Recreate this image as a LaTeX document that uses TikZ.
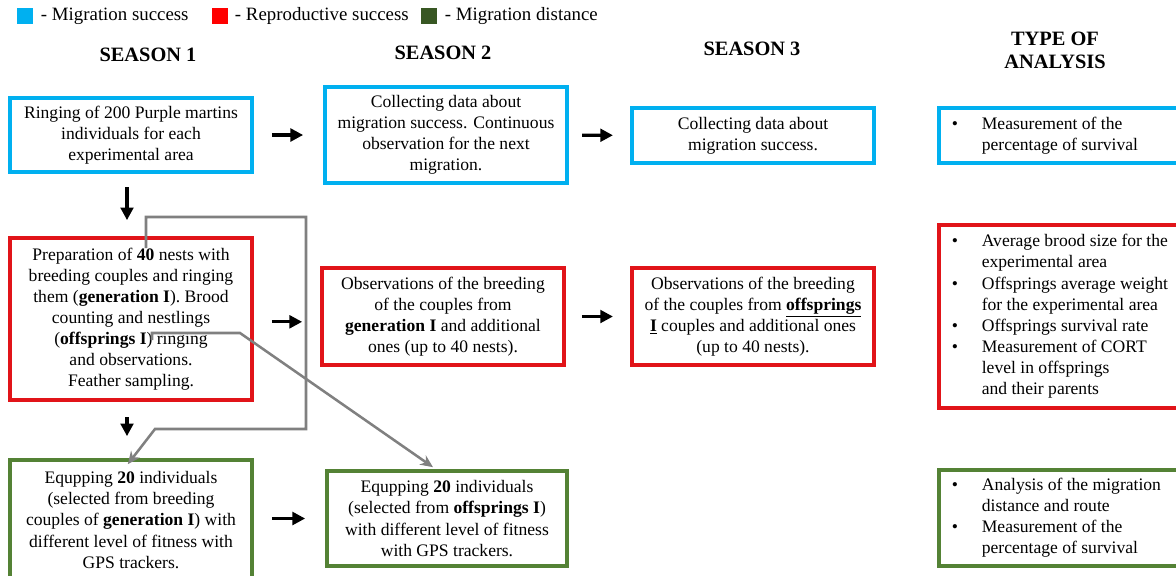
\documentclass[tikz,border=0pt]{standalone}
\usepackage{fontspec}
\setmainfont{Liberation Serif}
\usetikzlibrary{arrows.meta, positioning, calc}
\definecolor{migblue}{RGB}{0,176,240}
\definecolor{reprored}{RGB}{225,20,25}
\definecolor{distgreen}{RGB}{84,130,53}
\definecolor{keygreen}{RGB}{56,87,35}
\definecolor{keyred}{RGB}{255,0,0}

\begin{document}
\begin{tikzpicture}[x=0.025cm, y=-0.025cm,
  every node/.style={font=\fontsize{12.5}{15}\selectfont},
  box/.style={draw, line width=2.6pt, align=center, inner sep=2pt, minimum width=6.05cm},
  bluebox/.style={box, draw=migblue},
  redbox/.style={box, draw=reprored},
  greenbox/.style={box, draw=distgreen},
  listbox/.style={draw, line width=2.6pt, anchor=west, inner xsep=0.15cm, minimum width=7cm},
  head/.style={font=\fontsize{14.5}{16.5}\selectfont\bfseries, align=center},
  keytext/.style={anchor=west, font=\fontsize{13.4}{15}\selectfont},
  arr/.style={line width=2.2pt, -{Triangle[length=9pt,width=9pt]}},
  grayarr/.style={gray, line width=1.8pt, -{Stealth[length=9pt,width=8pt]}},
  key/.style={minimum width=0.42cm, minimum height=0.38cm, inner sep=0pt}]
  \useasboundingbox (0,0) rectangle (1176,575);

  % legend
  \node[key, fill=migblue] (kblue) at (25,16) {};
  \node[keytext] (tblue) at (36,16) {- Migration success};
  \node[key, fill=keyred] (kred) at (220,16) {};
  \node[keytext] (tred) at (230,16) {- Reproductive success};
  \node[key, fill=keygreen] (kgreen) at (429,16) {};
  \node[keytext] (tgreen) at (440,16) {- Migration distance};

  % column heads
  \node[head] (s1) at (148,55) {SEASON 1};
  \node[head] (s2) at (443,53) {SEASON 2};
  \node[head] (s3) at (752,49) {SEASON 3};
  \node[head] (toa) at (1055,50) {TYPE OF\\ANALYSIS};

  % migration success row
  \node[bluebox, minimum height=1.85cm] (ringing) at (131,135)
    {Ringing of 200 Purple martins\\ individuals for each\\ experimental area};
  \node[bluebox, minimum height=2.4cm] (collect2) at (446,135)
    {Collecting data about\\ migration success. Continuous\\ observation for the next\\ migration.};
  \node[bluebox, minimum height=1.375cm] (collect3) at (753,135.5)
    {Collecting data about\\ migration success.};
  \node[listbox, draw=migblue, minimum height=1.375cm] (survival) at (937,135.5)
    {\begin{tabular}{@{}p{0.75cm}@{}p{5.6cm}@{}}
      \textbullet & Measurement of the\\
                  & percentage of survival
     \end{tabular}};

  % reproductive success row
  \node[redbox, minimum height=4.05cm] (prep) at (131,319)
    {Preparation of \textbf{40} nests with\\ breeding couples and ringing\\
     them (\textbf{generation I}). Brood\\ counting and nestlings\\
     (\textbf{offsprings I}) ringing\\ and observations.\\ Feather sampling.};
  \node[redbox, minimum height=2.425cm] (obs2) at (443,316.5)
    {Observations of the breeding\\ of the couples from\\
     \textbf{generation I} and additional\\ ones (up to 40 nests).};
  \node[redbox, minimum height=2.425cm] (obs3) at (753,316.5)
    {Observations of the breeding\\ of the couples from \underline{\textbf{offsprings}}\\
     \underline{\textbf{I}} couples and additional ones\\ (up to 40 nests).};
  \node[listbox, draw=reprored, minimum height=4.575cm] (brood) at (937,316.5)
    {\begin{tabular}{@{}p{0.75cm}@{}p{5.6cm}@{}}
      \textbullet & Average brood size for the\\
                  & experimental area\\
      \textbullet & Offsprings average weight\\
                  & for the experimental area\\
      \textbullet & Offsprings survival rate\\
      \textbullet & Measurement of CORT\\
                  & level in offsprings\\
                  & and their parents
     \end{tabular}};

  % migration distance row
  \node[greenbox, minimum height=3cm] (equip1) at (131,520)
    {Equpping \textbf{20} individuals\\ (selected from breeding\\
     couples of \textbf{generation I}) with\\ different level of fitness with\\ GPS trackers.};
  \node[greenbox, minimum width=6cm, minimum height=2.375cm] (equip2) at (447,518.5)
    {Equpping \textbf{20} individuals\\ (selected from \textbf{offsprings I})\\
     with different level of fitness\\ with GPS trackers.};
  \node[listbox, draw=distgreen, minimum height=2.4cm] (distance) at (937,518)
    {\begin{tabular}{@{}p{0.75cm}@{}p{5.6cm}@{}}
      \textbullet & Analysis of the migration\\
                  & distance and route\\
      \textbullet & Measurement of the\\
                  & percentage of survival
     \end{tabular}};

  % season to season
  \coordinate (pe) at ([yshift=-0.07cm]prep.east);
  \draw[arr, shorten <=0.45cm, shorten >=0.5cm] (ringing) -- (collect2);
  \draw[arr, shorten <=0.33cm, shorten >=0.43cm] (collect2) -- (collect3);
  \draw[arr, shorten <=0.45cm, shorten >=0.45cm] (pe) -- (pe -| obs2.west);
  \draw[arr, shorten <=0.4cm, shorten >=0.43cm] (obs2) -- (obs3);
  \draw[arr, shorten <=0.45cm, shorten >=0.5cm] (equip1.east |- equip2) -- (equip2);

  % within season 1
  \draw[arr, shorten <=0.33cm, shorten >=0.4cm] ([xshift=-0.1cm]ringing.south) -- ([xshift=-0.1cm]prep.north);
  \draw[arr, shorten <=0.38cm, shorten >=0.55cm] ([xshift=-0.1cm]prep.south) -- ([xshift=-0.1cm]equip1.north);

  % selection of tracked birds
  \coordinate (gen) at (146,248);
  \coordinate (off) at (152,340);
  \draw[grayarr] (gen) |- (306,217) |- (155,429) -- ([xshift=-0.08cm,yshift=-0.15cm]equip1.north);
  \draw[grayarr] (off) -- (152,333) -- (240,333) -- ([xshift=-0.35cm,yshift=0.05cm]equip2.north);
\end{tikzpicture}
\end{document}
